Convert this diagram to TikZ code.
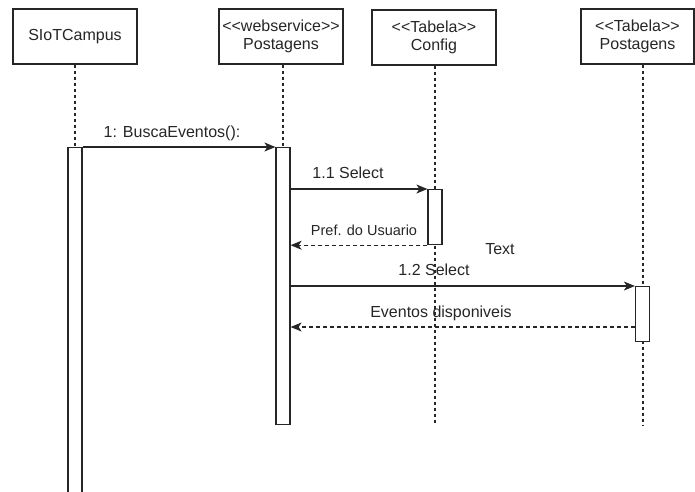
\documentclass[tikz,border=0pt]{standalone}
\usepackage{fontspec}
\setmainfont{Liberation Sans}[Ligatures=TeXOff]
\usetikzlibrary{arrows.meta}
\definecolor{ink}{HTML}{262626}
\begin{document}
\begin{tikzpicture}[x=1pt,y=-1pt,
  every node/.style={text=ink},
  actor/.style={draw=ink, line width=1.2pt, fill=white, minimum width=124pt,
    minimum height=55pt, inner sep=0pt, align=center,
    font=\fontsize{16}{18}\selectfont},
  bar/.style={draw=ink, line width=1.2pt, fill=white, minimum width=14pt, inner sep=0pt},
  life/.style={draw=ink, line width=1.1pt, dash pattern=on 3pt off 3pt},
  msg/.style={draw=ink, line width=1.2pt, -{Stealth[length=11pt,width=9pt,inset=3pt]}},
  ret/.style={msg, dash pattern=on 4pt off 3pt},
  lbl/.style={font=\fontsize{16}{18}\selectfont, inner sep=0pt},
  slbl/.style={font=\fontsize{14.5}{16}\selectfont, inner sep=0pt}]
\useasboundingbox (0,0) rectangle (695,491);

% participants
\node[actor] (siot) at (75,36.5) {SIoTCampus};
\node[actor] (post) at (281,36.5) {<<webservice>>\\Postagens};
\node[actor] (conf) at (434,37.5) {<<Tabela>>\\Config};
\node[actor, minimum width=113pt] (tpost) at (637.5,36.5) {<<Tabela>>\\Postagens};

% lifelines
\coordinate (siotEnd) at (75,491);
\coordinate (postEnd) at (283,420);
\coordinate (confEnd) at (435,425);
\coordinate (tpostEnd) at (643,425);
\draw[life] (siot.south) -- (siotEnd);
\draw[life] (post.south -| postEnd) -- (postEnd);
\draw[life] (conf.south -| confEnd) -- (confEnd);
\draw[life] (tpost.south -| tpostEnd) -- (tpostEnd);

% activation bars
\node[bar, minimum height=350pt, anchor=north] (sb) at (75,147) {};
\node[bar, minimum height=277pt, anchor=north] (pb) at (283,147) {};
\node[bar, minimum height=55pt, anchor=north] (cb) at (435,189) {};
\node[bar, minimum height=55pt, anchor=north] (tb) at (642.5,286) {};

% reply point on the Postagens table bar
\coordinate (tbReply) at (tb.west |- 0,327);

% messages
\draw[msg] (sb.north east) -- (pb.north west);
\node[lbl] (m1) at (172,133) {1: BuscaEventos():};

\draw[msg] (pb.east |- cb.north west) -- (cb.north west);
\node[lbl] (m11) at (348,173) {1.1 Select};

\draw[ret] (cb.south west) -- (pb.east |- cb.south west);
\node[slbl] (m11r) at (364,230) {Pref. do Usuario};

\node[lbl] (txt) at (500,249) {Text};

\draw[msg] (pb.east |- tb.north west) -- (tb.north west);
\node[lbl] (m12) at (434,270) {1.2 Select};

\draw[ret] (tbReply) -- (pb.east |- tbReply);
\node[lbl] (m12r) at (441,313) {Eventos disponiveis};
\end{tikzpicture}
\end{document}
